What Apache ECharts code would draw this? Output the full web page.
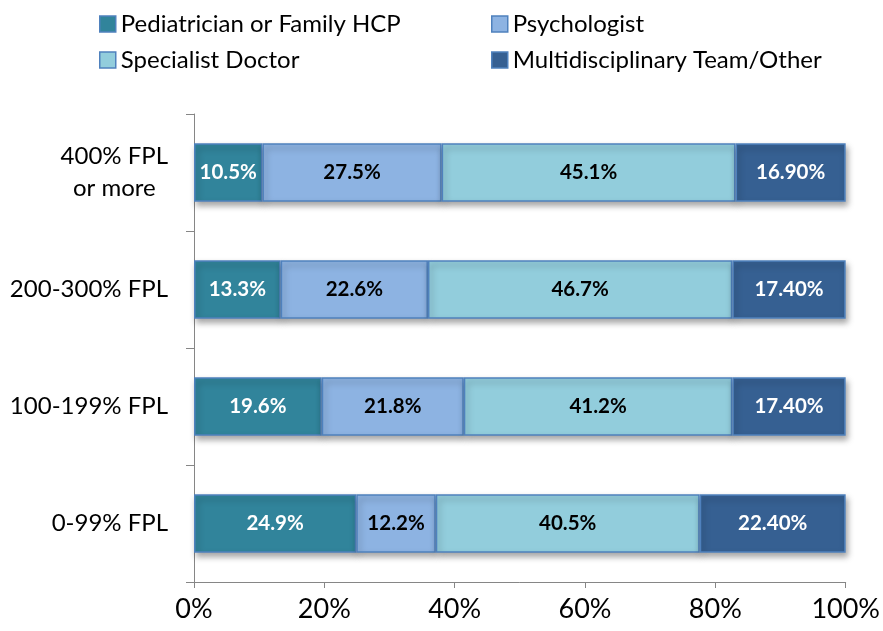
<!DOCTYPE html>
<html>
<head>
<meta charset="utf-8">
<script src="https://cdn.jsdelivr.net/npm/echarts@6/dist/echarts.min.js"></script>
<style>
  html, body { margin: 0; padding: 0; background: #fff; }
  #chart { width: 883px; height: 631px; }
</style>
</head>
<body>
<div id="chart"></div>
<script>
// categories, bottom to top
const categories = ['0-99% FPL', '100-199% FPL', '200-300% FPL', '400% FPL\nor more'];
const seriesNames = ['Pediatrician or Family HCP', 'Psychologist', 'Specialist Doctor', 'Multidisciplinary Team/Other'];

const pediatrician = [24.9, 19.6, 13.3, 10.5];
const psychologist = [12.2, 21.8, 22.6, 27.5];
const specialist = [40.5, 41.2, 46.7, 45.1];
const multidisciplinary = [22.4, 17.4, 17.4, 16.9];

// label texts as printed on the bars
const pediatricianLabels = ['24.9%', '19.6%', '13.3%', '10.5%'];
const psychologistLabels = ['12.2%', '21.8%', '22.6%', '27.5%'];
const specialistLabels = ['40.5%', '41.2%', '46.7%', '45.1%'];
const multidisciplinaryLabels = ['22.40%', '17.40%', '17.40%', '16.90%'];

const xTicks = [0, 20, 40, 60, 80, 100];

const FONT = 'Lato, "Open Sans", sans-serif';
const colors = ['#31849B', '#8DB3E2', '#92CDDC', '#366092'];
const labelColors = ['#ffffff', '#000000', '#000000', '#ffffff'];

function makeSeries(i, values, labels) {
  return {
    name: seriesNames[i],
    type: 'bar',
    stack: 'total',
    barCategoryGap: '50%',
    data: values,
    itemStyle: {
      color: colors[i],
      borderColor: '#4F81BD',
      borderWidth: 1.5,
      shadowColor: 'rgba(0,0,0,0.35)',
      shadowBlur: 6,
      shadowOffsetX: 2,
      shadowOffsetY: 4
    },
    label: {
      show: true,
      position: 'inside',
      formatter: p => labels[p.dataIndex],
      color: labelColors[i],
      fontFamily: FONT,
      fontWeight: 'bold',
      fontSize: 20.5
    }
  };
}

const legendText = { fontFamily: FONT, fontSize: 24, color: '#000' };

const chart = echarts.init(document.getElementById('chart'));
chart.setOption({
  animation: false,
  backgroundColor: '#ffffff',
  color: colors,
  legend: [
    {
      data: [seriesNames[0], seriesNames[2]],
      orient: 'vertical',
      left: 94,
      top: 7,
      itemGap: 12,
      itemWidth: 16,
      itemHeight: 16,
      icon: 'rect',
      itemStyle: { borderColor: '#4F81BD', borderWidth: 1.5 },
      textStyle: legendText
    },
    {
      data: [seriesNames[1], seriesNames[3]],
      orient: 'vertical',
      left: 486,
      top: 7,
      itemGap: 12,
      itemWidth: 16,
      itemHeight: 16,
      icon: 'rect',
      itemStyle: { borderColor: '#4F81BD', borderWidth: 1.5 },
      textStyle: legendText
    }
  ],
  grid: { left: 194, right: 35, top: 114, bottom: 49, containLabel: false },
  xAxis: {
    type: 'value',
    min: xTicks[0],
    max: xTicks[xTicks.length - 1],
    interval: 20,
    axisLine: { show: true, lineStyle: { color: '#868686', width: 1 } },
    axisTick: { show: true, length: 6, lineStyle: { color: '#868686' } },
    splitLine: { show: false },
    axisLabel: {
      formatter: '{value}%',
      fontFamily: FONT,
      fontSize: 27,
      color: '#000',
      margin: 14
    }
  },
  yAxis: {
    type: 'category',
    data: categories,
    axisLine: { show: true, lineStyle: { color: '#868686', width: 1 } },
    axisTick: { show: true, length: 8, lineStyle: { color: '#868686' } },
    axisLabel: {
      margin: 26,
      align: 'right',
      formatter: v => v.split('\n').map(s => '{c|' + s + '}').join('\n'),
      rich: {
        c: {
          fontFamily: FONT,
          fontSize: 24,
          color: '#000',
          lineHeight: 32,
          align: 'center'
        }
      }
    }
  },
  series: [
    makeSeries(0, pediatrician, pediatricianLabels),
    makeSeries(1, psychologist, psychologistLabels),
    makeSeries(2, specialist, specialistLabels),
    makeSeries(3, multidisciplinary, multidisciplinaryLabels)
  ]
});
</script>
</body>
</html>
